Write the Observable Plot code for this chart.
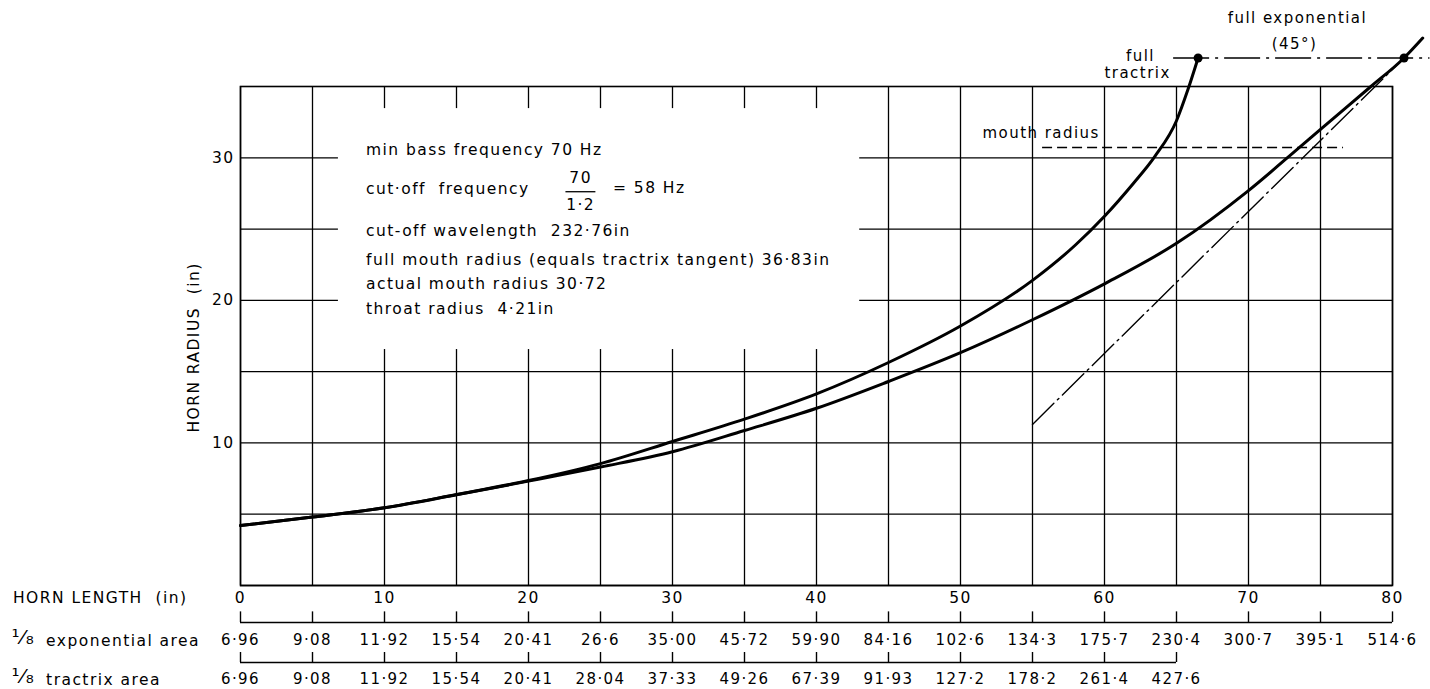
<!DOCTYPE html>
<html><head><meta charset="utf-8">
<script src="https://cdn.jsdelivr.net/npm/d3@7"></script>
<script src="https://cdn.jsdelivr.net/npm/@observablehq/plot@0.6"></script>
<style>body{margin:0;background:#fff;} svg{display:block;}</style>
</head><body><div id="chart"></div>
<script>
// ---- data ----
const gridLength = [0,5,10,15,20,25,30,35,40,45,50,55,60,65,70,75,80];
const gridRadius = [0,5,10,15,20,25,30];
const lengthLabels = [0,10,20,30,40,50,60,70,80];
const radiusLabels = [10,20,30];
const expAreaLabels = ["6·96","9·08","11·92","15·54","20·41","26·6","35·00","45·72","59·90","84·16","102·6","134·3","175·7","230·4","300·7","395·1","514·6"];
const tractrixAreaLabels = ["6·96","9·08","11·92","15·54","20·41","28·04","37·33","49·26","67·39","91·93","127·2","178·2","261·4","427·6"];

const tractrixLength = [0,5,10,15,20,25,30,35,40,45,50,55,58,60,62,63.5,65,65.8,66.5];
const tractrixRadius = [4.21,4.8,5.45,6.38,7.36,8.55,10.1,11.67,13.44,15.64,18.2,21.4,23.9,25.9,28.2,30.1,32.6,34.8,37.0];
const exponentialLength = [0,5,10,15,20,25,30,35,40,45,50,55,60,65,70,73.5,75,78.5,80.8,82.1];
const exponentialRadius = [4.21,4.8,5.45,6.36,7.32,8.31,9.38,10.87,12.43,14.31,16.33,18.64,21.16,24.0,27.7,30.7,32.0,35.0,37.0,38.4];

const fullExpLength = [55,80.8];       // 45° full exponential line
const fullExpRadius = [11.3,37.0];
const fullMouthLength = [64.8,82.6];   // full mouth radius level
const fullMouthRadius = 37.0;
const mouthLength = [55.7,76.6];       // actual mouth radius level
const mouthRadius = 30.72;
const mouthPointLength = [66.5,80.8];
const mouthPointRadius = [37.0,37.0];

const infoLines = [
  "min bass frequency 70 Hz",
  "cut·off  frequency",
  "cut-off wavelength  232·76in",
  "full mouth radius (equals tractrix tangent) 36·83in",
  "actual mouth radius 30·72",
  "throat radius  4·21in"
];
const infoY = [30.54,27.8,24.88,22.82,21.13,19.41];
const rowTitles = ["exponential area","tractrix area"];
const rowFraction = "¹⁄₈";

// ---- tables built from the arrays ----
const tractrix = tractrixLength.map((x,i)=>({x, y: tractrixRadius[i]}));
const exponential = exponentialLength.map((x,i)=>({x, y: exponentialRadius[i]}));
const fullExp = fullExpLength.map((x,i)=>({x, y: fullExpRadius[i]}));
const dots = mouthPointLength.map((x,i)=>({x, y: mouthPointRadius[i]}));
const expRow = gridLength.map((x,i)=>({x, label: expAreaLabels[i]}));
const trRow = tractrixAreaLabels.map((label,i)=>({x: gridLength[i], label}));
const info = infoLines.map((t,i)=>({t, y: infoY[i]}));

const F = "DejaVu Sans";
const rowY = {len:-0.91, expLine:-2.6, expTick:-1.85, expLab:-3.86, trLine:-5.4, trTick:-4.7, trLab:-6.6};
const rows = [{t: rowTitles[0], y: rowY.expLab}, {t: rowTitles[1], y: rowY.trLab}];

const chart = Plot.plot({
  width: 1430, height: 689,
  marginLeft: 240, marginRight: 38, marginTop: 86, marginBottom: 104,
  x: {domain: [0,80], axis: null},
  y: {domain: [0,35], axis: null},
  style: {fontFamily: F, letterSpacing: "1.45px", color: "black", background: "white"},
  marks: [
    Plot.ruleX(gridLength, {stroke: "black", strokeWidth: 1.3}),
    Plot.ruleY(gridRadius, {stroke: "black", strokeWidth: 1.3}),
    Plot.frame({stroke: "black", strokeWidth: 1.6}),
    // white panel behind the notes
    Plot.rect([{x1: 6.8, x2: 43, y1: 16.55, y2: 33.45}], {x1:"x1", x2:"x2", y1:"y1", y2:"y2", fill: "white"}),
    // notes
    Plot.text(info, {x: 8.72, y: "y", text: "t", textAnchor: "start", fontSize: 15.5, fill: "black"}),
    Plot.text(["70"], {x: 23.62, y: 28.55, text: d=>d, fontSize: 15.5, fill: "black"}),
    Plot.ruleY([27.62], {x1: 22.6, x2: 24.68, stroke: "black", strokeWidth: 1.3}),
    Plot.text(["1·2"], {x: 23.62, y: 26.72, text: d=>d, fontSize: 15.5, fill: "black"}),
    Plot.text(["= 58 Hz"], {x: 25.87, y: 27.85, text: d=>d, textAnchor: "start", fontSize: 15.5, fill: "black", letterSpacing: "0.3px"}),
    // guide lines
    Plot.line(fullExp, {x: "x", y: "y", stroke: "black", strokeWidth: 1.4, strokeDasharray: "30,5,2,5"}),
    Plot.ruleY([fullMouthRadius], {x1: fullMouthLength[0], x2: fullMouthLength[1], stroke: "black", strokeWidth: 1.5, strokeDasharray: "36,6,3,6"}),
    Plot.ruleY([mouthRadius], {x1: mouthLength[0], x2: mouthLength[1], stroke: "black", strokeWidth: 1.4, strokeDasharray: "10,5"}),
    // horn profiles
    Plot.line(tractrix, {x: "x", y: "y", curve: "monotone-x", stroke: "black", strokeWidth: 3}),
    Plot.line(exponential, {x: "x", y: "y", curve: "monotone-x", stroke: "black", strokeWidth: 3}),
    Plot.dot(dots, {x: "x", y: "y", r: 4.5, fill: "black"}),
    // annotations
    Plot.text(["mouth radius"], {x: 55.6, y: 31.75, text: d=>d, fontSize: 15, fill: "black"}),
    Plot.text(["full"], {x: 62.5, y: 37.1, text: d=>d, fontSize: 15, fill: "black"}),
    Plot.text(["tractrix"], {x: 62.3, y: 35.9, text: d=>d, fontSize: 15, fill: "black"}),
    Plot.text(["full exponential"], {x: 73.4, y: 39.77, text: d=>d, fontSize: 15, fill: "black"}),
    Plot.text(["(45°)"], {x: 73.2, y: 38.0, text: d=>d, fontSize: 15, fill: "black"}),
    // y axis
    Plot.text(radiusLabels, {x: 0, y: d=>d, text: d=>String(d), dx: -6, textAnchor: "end", fontSize: 15.5, fill: "black"}),
    Plot.text(["HORN RADIUS  (in)"], {x: -3.2, y: 16.7, text: d=>d, rotate: -90, fontSize: 15.5, fill: "black"}),
    // x axis: horn length
    Plot.text(lengthLabels, {x: d=>d, y: rowY.len, text: d=>String(d), fontSize: 15.5, fill: "black"}),
    Plot.text(["HORN LENGTH  (in)"], {x: -15.8, y: rowY.len, text: d=>d, textAnchor: "start", fontSize: 15.5, fill: "black"}),
    // exponential area scale
    Plot.ruleY([rowY.expLine], {x1: 0, x2: 80, stroke: "black", strokeWidth: 1.4}),
    Plot.ruleX(expRow, {x: "x", y1: rowY.expLine, y2: rowY.expTick, stroke: "black", strokeWidth: 1.4}),
    Plot.text(expRow, {x: "x", y: rowY.expLab, text: "label", fontSize: 15, fill: "black"}),
    // tractrix area scale
    Plot.ruleY([rowY.trLine], {x1: 0, x2: 65, stroke: "black", strokeWidth: 1.4}),
    Plot.ruleX(trRow, {x: "x", y1: rowY.trLine, y2: rowY.trTick, stroke: "black", strokeWidth: 1.4}),
    Plot.text(trRow, {x: "x", y: rowY.trLab, text: "label", fontSize: 15, fill: "black"}),
    // row titles
    Plot.text(rows, {x: -15.9, y: "y", text: () => rowFraction, textAnchor: "start", fontSize: 20, fill: "black", letterSpacing: "0px", dy: -3}),
    Plot.text(rows, {x: -13.5, y: "y", text: "t", textAnchor: "start", fontSize: 15.5, fill: "black"})
  ]
});
document.getElementById("chart").append(chart);
</script>
</body></html>
